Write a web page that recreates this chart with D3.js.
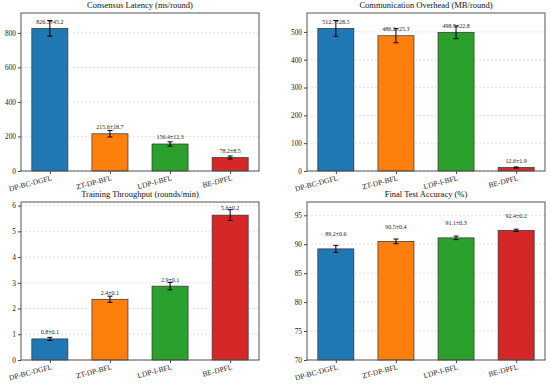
<!DOCTYPE html>
<html>
<head>
<meta charset="utf-8">
<script src="https://cdn.jsdelivr.net/npm/d3@7"></script>
<style>
  body { margin: 0; background: #fff; }
  svg text { font-family: "Liberation Serif", "DejaVu Serif", serif; }
  .tick text { font-size: 7.3px; fill: #222; }
  .tick line { stroke: #444; }
  .domain { stroke: none; }
</style>
</head>
<body>
<script>
// methods and colours
var methods = ["DP-BC-DGFL", "ZT-DP-BFL", "LDP-I-BFL", "BE-DPFL"];
var colors = ["#1f77b4", "#ff7f0e", "#2ca02c", "#d62728"];

// panel data
var latency = [826.3, 215.6, 156.4, 78.2];
var latencyErr = [45.2, 18.7, 12.3, 8.5];
var overhead = [512.7, 486.2, 498.5, 12.6];
var overheadErr = [28.5, 25.3, 22.8, 1.9];
var throughput = [0.82, 2.36, 2.87, 5.63];
var throughputErr = [0.06, 0.12, 0.14, 0.21];
var accuracy = [89.2, 90.5, 91.1, 92.4];
var accuracyErr = [0.6, 0.4, 0.3, 0.2];

var latencyTicks = [0, 200, 400, 600, 800];
var overheadTicks = [0, 100, 200, 300, 400, 500];
var throughputTicks = [0, 1, 2, 3, 4, 5, 6];
var accuracyTicks = [70, 75, 80, 85, 90, 95];

var svg = d3.select("body").append("svg")
    .attr("width", 550)
    .attr("height", 386);

function panel(opt) {
    var w = 238, h = 158;
    var g = svg.append("g").attr("transform", "translate(" + opt.x + "," + opt.y + ")");

    var x = d3.scaleLinear().domain([-0.48, 3.48]).range([0, w]);
    var y = d3.scaleLinear().domain(opt.domain).range([h, 0]);

    // dashed grid
    g.selectAll(".grid").data(opt.ticks).enter().append("line")
        .attr("x1", 0).attr("x2", w)
        .attr("y1", d => y(d)).attr("y2", d => y(d))
        .attr("stroke", "#bbb")
        .attr("stroke-width", 0.6)
        .attr("stroke-dasharray", "2,2")
        .attr("opacity", 0.7);

    var bw = x(0.3) - x(-0.3);
    g.selectAll(".bar").data(opt.values).enter().append("rect")
        .attr("x", (d, i) => x(i) - bw / 2)
        .attr("width", bw)
        .attr("y", d => y(d))
        .attr("height", d => y(opt.domain[0]) - y(d))
        .attr("fill", (d, i) => colors[i])
        .attr("stroke", "#333")
        .attr("stroke-width", 0.7);

    // error bars
    opt.values.forEach(function(v, i) {
        var e = opt.errs[i], cx = x(i);
        g.append("line").attr("x1", cx).attr("x2", cx)
            .attr("y1", y(v - e)).attr("y2", y(v + e))
            .attr("stroke", "#000").attr("stroke-width", 1);
        [v - e, v + e].forEach(function(t) {
            g.append("line").attr("x1", cx - 2.5).attr("x2", cx + 2.5)
                .attr("y1", y(t)).attr("y2", y(t))
                .attr("stroke", "#000").attr("stroke-width", 1);
        });
        g.append("text")
            .attr("x", cx)
            .attr("y", y(v + opt.labelOff))
            .attr("text-anchor", "middle")
            .style("font-size", "6px")
            .attr("fill", "#222")
            .text(v.toFixed(1) + "±" + e.toFixed(1));
    });

    var yAxis = d3.axisLeft(y).tickValues(opt.ticks).tickSize(3).tickPadding(2).tickFormat(d3.format("d"));
    g.append("g").attr("font-family", null).call(yAxis);

    var xAxis = d3.axisBottom(x).tickValues([0, 1, 2, 3]).tickSize(3).tickFormat(i => methods[i]);
    var xa = g.append("g").attr("transform", "translate(0," + h + ")").call(xAxis);
    xa.selectAll("text")
        .attr("text-anchor", "end")
        .attr("x", 0).attr("y", 0).attr("dy", 0)
        .attr("transform", "translate(2,9) rotate(-15)")
        .style("font-size", "7.5px");

    g.append("rect")
        .attr("width", w).attr("height", h)
        .attr("fill", "none")
        .attr("stroke", "#555")
        .attr("stroke-width", 1);

    g.append("text")
        .attr("x", w / 2).attr("y", -5)
        .attr("text-anchor", "middle")
        .style("font-size", "8.5px")
        .attr("fill", "#111")
        .text(opt.title);
}

panel({x: 21, y: 13, title: "Consensus Latency (ms/round)", values: latency, errs: latencyErr,
       domain: [0, 915], ticks: latencyTicks, labelOff: 27});
panel({x: 307, y: 13, title: "Communication Overhead (MB/round)", values: overhead, errs: overheadErr,
       domain: [0, 568], ticks: overheadTicks, labelOff: 17});
panel({x: 21, y: 202, title: "Training Throughput (rounds/min)", values: throughput, errs: throughputErr,
       domain: [0, 6.14], ticks: throughputTicks, labelOff: 0.18});
panel({x: 307, y: 202, title: "Final Test Accuracy (%)", values: accuracy, errs: accuracyErr,
       domain: [70, 97.3], ticks: accuracyTicks, labelOff: 2.2});
</script>
</body>
</html>
